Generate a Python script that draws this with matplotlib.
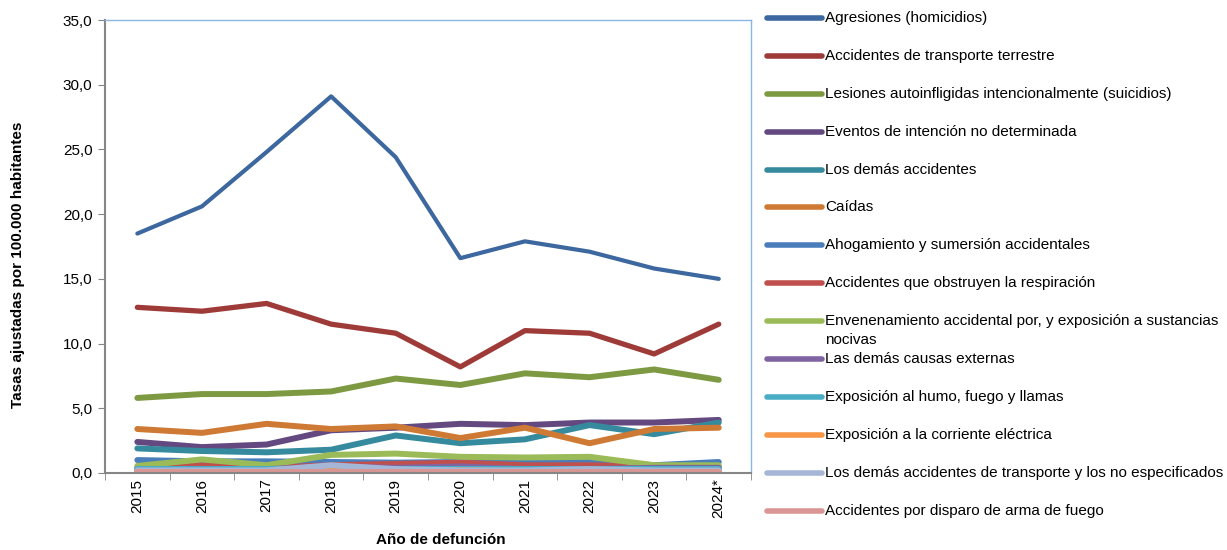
import matplotlib.pyplot as plt
from matplotlib.lines import Line2D

plt.rcParams['font.family'] = ['Liberation Sans', 'DejaVu Sans']

years = ['2015', '2016', '2017', '2018', '2019', '2020', '2021', '2022', '2023', '2024*']

agresiones = [18.5, 20.6, 24.8, 29.1, 24.4, 16.6, 17.9, 17.1, 15.8, 15.0]
transporte = [12.8, 12.5, 13.1, 11.5, 10.8, 8.2, 11.0, 10.8, 9.2, 11.5]
suicidios = [5.8, 6.1, 6.1, 6.3, 7.3, 6.8, 7.7, 7.4, 8.0, 7.2]
intencion_nd = [2.4, 2.0, 2.2, 3.3, 3.5, 3.8, 3.7, 3.9, 3.9, 4.1]
demas_accidentes = [1.9, 1.7, 1.6, 1.8, 2.9, 2.3, 2.6, 3.7, 3.0, 3.9]
caidas = [3.4, 3.1, 3.8, 3.4, 3.6, 2.7, 3.5, 2.3, 3.4, 3.5]
ahogamiento = [1.0, 0.9, 0.9, 0.85, 0.8, 0.85, 0.85, 0.95, 0.6, 0.85]
respiracion = [0.4, 0.6, 0.4, 0.6, 0.7, 0.8, 0.6, 0.6, 0.5, 0.5]
envenenamiento = [0.55, 1.05, 0.6, 1.4, 1.5, 1.25, 1.2, 1.25, 0.6, 0.6]
demas_causas = [0.3, 0.3, 0.3, 0.5, 0.4, 0.5, 0.3, 0.3, 0.4, 0.4]
humo = [0.3, 0.3, 0.3, 0.3, 0.3, 0.3, 0.3, 0.3, 0.3, 0.3]
electrica = [0.15, 0.15, 0.15, 0.15, 0.15, 0.2, 0.15, 0.15, 0.15, 0.15]
demas_transporte = [0.2, 0.2, 0.2, 0.6, 0.3, 0.2, 0.2, 0.3, 0.2, 0.2]
disparo = [0.1, 0.1, 0.1, 0.1, 0.1, 0.1, 0.1, 0.1, 0.1, 0.1]

labels = [
    'Agresiones (homicidios)',
    'Accidentes de transporte terrestre',
    'Lesiones autoinfligidas intencionalmente (suicidios)',
    'Eventos de intención no determinada',
    'Los demás accidentes',
    'Caídas',
    'Ahogamiento y sumersión accidentales',
    'Accidentes que obstruyen la respiración',
    'Envenenamiento accidental por, y exposición a sustancias\nnocivas',
    'Las demás causas externas',
    'Exposición al humo, fuego y llamas',
    'Exposición a la corriente eléctrica',
    'Los demás accidentes de transporte y los no especificados',
    'Accidentes por disparo de arma de fuego',
]
series = [agresiones, transporte, suicidios, intencion_nd, demas_accidentes, caidas,
          ahogamiento, respiracion, envenenamiento, demas_causas, humo, electrica,
          demas_transporte, disparo]
colors = ['#3C679F', '#9E3B38', '#7D9A43', '#63497F', '#358A9E', '#CF7A34',
          '#4A7EBB', '#C0504D', '#9BBB59', '#8064A2', '#4BACC6', '#F79646',
          '#A5B6D6', '#D99694']
widths = [3.0, 3.8] + [4.3] * 12

fig = plt.figure(figsize=(12.27, 5.5), dpi=100)
ax = fig.add_axes([0.0856, 0.14, 0.5265, 0.8236])

x = range(len(years))
for vals, c, lw in zip(series, colors, widths):
    ax.plot(x, vals, color=c, lw=lw, solid_capstyle='round', solid_joinstyle='round')

ax.set_xlim(-0.5, len(years) - 0.5)
ax.set_ylim(0, 35)
ax.set_yticks([0, 5, 10, 15, 20, 25, 30, 35])
ax.set_yticklabels(['0,0', '5,0', '10,0', '15,0', '20,0', '25,0', '30,0', '35,0'], fontsize=11)
ax.set_xticks(list(x))
ax.set_xticklabels(years, rotation=90, fontsize=11)
ax.tick_params(axis='x', length=0, pad=4)
ax.set_xticks([i - 0.5 for i in range(len(years) + 1)], minor=True)
ax.tick_params(axis='x', which='minor', length=5, color='#868686', direction='out')
ax.tick_params(axis='y', length=5, color='#868686', direction='out', pad=4)

for side in ['left', 'bottom']:
    ax.spines[side].set_color('#868686')
    ax.spines[side].set_linewidth(1.5)
for side in ['top', 'right']:
    ax.spines[side].set_color('#8EB4E3')
    ax.spines[side].set_linewidth(1.0)

ax.set_ylabel('Tasas ajustadas por 100.000 habitantes', fontsize=11, fontweight='bold')
ax.yaxis.set_label_coords(-0.124, 0.46)
ax.set_xlabel('Año de defunción', fontsize=11, fontweight='bold')
ax.xaxis.set_label_coords(0.519, -0.132)

# leyenda manual a la derecha
W, H = 1227.0, 550.0
for i, (lab, c) in enumerate(zip(labels, colors)):
    yp = 18 + i * 37.9
    yf = 1 - yp / H
    fig.add_artist(Line2D([767 / W, 822 / W], [yf, yf], color=c, lw=4.0,
                          solid_capstyle='round', transform=fig.transFigure))
    for j, linea in enumerate(lab.split('\n')):
        fig.text(825 / W, 1 - (yp + j * 19) / H, linea, fontsize=11,
                 va='center', ha='left')

fig.savefig('out.png', dpi=100)
